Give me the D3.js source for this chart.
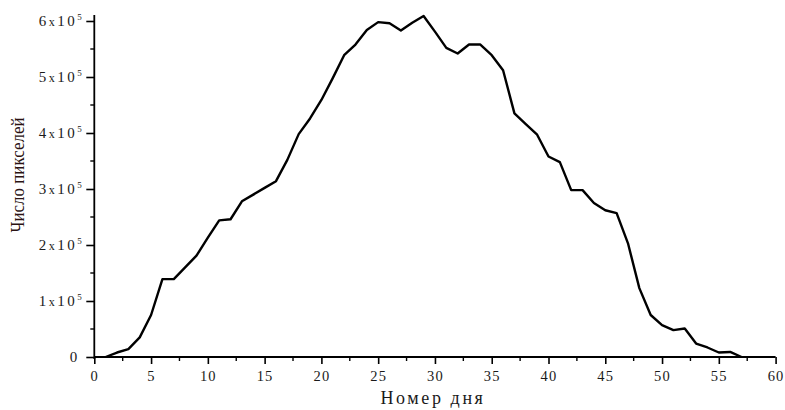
<!DOCTYPE html>
<html><head><meta charset="utf-8">
<script src="https://cdn.jsdelivr.net/npm/d3@7"></script>
<style>
html,body{margin:0;padding:0;background:#fff;}
svg{display:block;}
svg text{font-family:'Liberation Serif','Times New Roman','DejaVu Serif',serif !important;}
</style></head>
<body><svg id="c" width="785" height="410"></svg>
<script>
const days = [1,2,3,4,5,6,7,8,9,10,11,12,13,14,15,16,17,18,19,20,21,22,23,24,25,26,27,28,29,30,31,32,33,34,35,36,37,38,39,40,41,42,43,44,45,46,47,48,49,50,51,52,53,54,55,56,57];
const pixels = [0,8000,14000,35000,75000,139000,139000,160000,181000,213000,244000,246000,278000,290000,302000,314000,352000,398000,426000,459000,498000,539000,558000,584000,598000,596000,583000,597000,609000,581000,552000,542000,558000,558000,539000,512000,435000,416000,397000,358000,348000,298000,298000,275000,262000,257000,203000,123000,75000,57000,48000,51000,24000,17000,8000,9000,0];
const xTicks = [0,5,10,15,20,25,30,35,40,45,50,55,60];
const yTicks = [0,100000,200000,300000,400000,500000,600000];
const xTitle = "Номер дня";
const yTitle = "Число пикселей";

const FONT = "'Liberation Serif','Times New Roman','DejaVu Serif',serif";
const svg = d3.select("#c");
const x = d3.scaleLinear().domain([0,60]).range([94.3,775.6]);
const y = d3.scaleLinear().domain([0,600000]).range([357,21]);

// x axis
const xAxis = d3.axisBottom(x).tickValues(xTicks).tickSize(7).tickPadding(6).tickFormat(d3.format("d"));
const gx = svg.append("g").attr("transform","translate(0,357)").call(xAxis).attr("font-family",FONT);
gx.select(".domain").attr("d", `M${x(0)},0H${x(60)}`);
gx.selectAll(".tick line").attr("stroke","#000").attr("stroke-width",1.6);
gx.selectAll(".tick text").attr("font-size",14.5).attr("letter-spacing",1.2).attr("fill","#1a1a1a").style("font-family",FONT).attr("dy","0.75em");
const xMinor = d3.range(2.5,60,5);
gx.selectAll(".minor").data(xMinor).join("line").attr("class","minor")
  .attr("x1",d=>x(d)).attr("x2",d=>x(d)).attr("y1",0).attr("y2",4)
  .attr("stroke","#000").attr("stroke-width",1.4);

// y axis
const yAxis = d3.axisLeft(y).tickValues(yTicks).tickSize(8).tickPadding(5).tickFormat(()=> "");
const gy = svg.append("g").attr("transform",`translate(${x(0)},0)`).call(yAxis).attr("font-family",FONT);
gy.select(".domain").attr("d", `M0,${y(0)+2}V15`);
gy.selectAll(".tick line").attr("stroke","#000").attr("stroke-width",1.6);
const yMinor = d3.range(50000,600000,100000);
gy.selectAll(".minor").data(yMinor).join("line").attr("class","minor")
  .attr("x1",0).attr("x2",-4).attr("y1",d=>y(d)).attr("y2",d=>y(d))
  .attr("stroke","#000").attr("stroke-width",1.4);
gy.selectAll(".tick text").each(function(d){
  const t = d3.select(this).attr("font-size",15).attr("fill","#1a1a1a").style("font-family",FONT).attr("x",-17);
  if(d===0){ t.text("0"); }
  else {
    const m = d/100000;
    t.attr("x",-10).attr("letter-spacing",2.5);
    t.append("tspan").text(m);
    t.append("tspan").attr("font-size",12).text("x");
    t.append("tspan").text("10");
    t.append("tspan").attr("font-size",9).attr("dy",-6).text("5");
  }
});
gy.selectAll(".domain").attr("stroke","#000").attr("stroke-width",1.8);
gx.selectAll(".domain").attr("stroke","#000").attr("stroke-width",1.8);

// line
const line = d3.line().x((d,i)=>x(days[i])).y(d=>y(d));
svg.append("path").datum(pixels).attr("d",line)
  .attr("fill","none").attr("stroke","#000").attr("stroke-width",2.4).attr("stroke-linejoin","round");

// titles
svg.append("text").attr("x",433).attr("y",404).attr("text-anchor","middle").style("font-family",FONT)
  .attr("font-size",18).attr("letter-spacing",2.6).attr("fill","#1a1a1a").text(xTitle);
svg.append("text").attr("transform","translate(24,175) rotate(-90)").attr("text-anchor","middle").style("font-family",FONT)
  .attr("font-size",19).attr("fill","#2a1212").attr("textLength",115).attr("lengthAdjust","spacingAndGlyphs").text(yTitle);
</script></body></html>
